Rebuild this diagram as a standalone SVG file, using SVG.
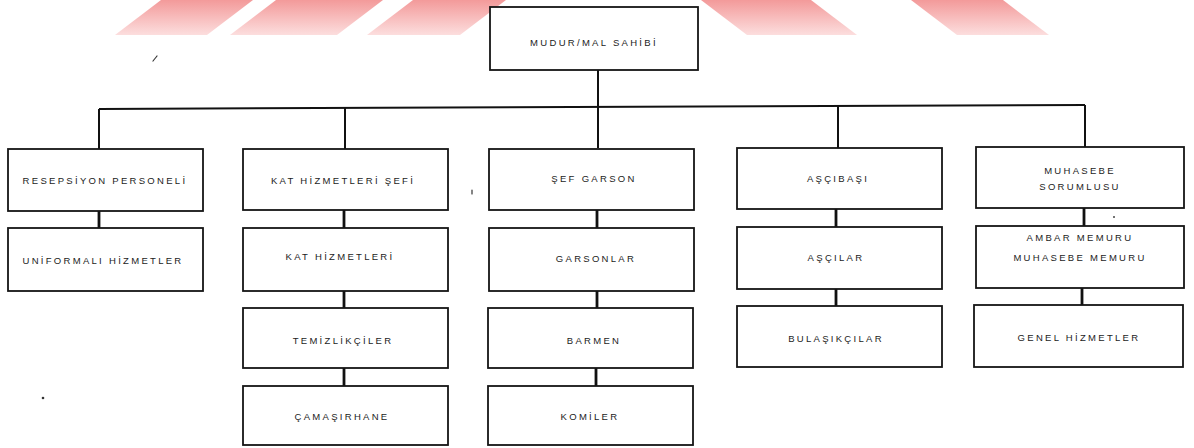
<svg xmlns="http://www.w3.org/2000/svg" width="1194" height="448" viewBox="0 0 1194 448">
  <defs>
    <linearGradient id="band" x1="0" y1="0" x2="0" y2="1">
      <stop offset="0" stop-color="#f39a9a"/>
      <stop offset="1" stop-color="#fcdede"/>
    </linearGradient>
    <style>
      .box { fill: #ffffff; stroke: #151515; stroke-width: 1.8; }
      .lbl { font-family: "Liberation Sans", "DejaVu Sans", sans-serif; font-size: 9.5px; letter-spacing: 2.3px; fill: #1c1c1c; text-anchor: middle; dominant-baseline: central; }
      .wire { fill: none; stroke: #111111; stroke-width: 2; }
      .link { fill: none; stroke: #111111; stroke-width: 2.8; }
      .speck { fill: none; stroke: #333333; stroke-width: 1.2; stroke-linecap: round; }
    </style>
  </defs>

  <rect width="1194" height="448" fill="#ffffff"/>

  <!-- decorative slanted bands along the top edge -->
  <g id="bands" fill="url(#band)">
    <polygon points="161,0 253,0 207,35 115,35"/>
    <polygon points="276,0 383,0 337,35 230,35"/>
    <polygon points="413,0 506,0 460,35 367,35"/>
    <polygon points="701,0 811,0 857,35 747,35"/>
    <polygon points="911,0 1003,0 1049,35 957,35"/>
  </g>

  <!-- connectors -->
  <g id="connectors">
    <line class="wire" x1="598" y1="70" x2="598" y2="148"/>
    <line class="wire" x1="99" y1="109" x2="1085" y2="105"/>
    <line class="wire" x1="99" y1="109" x2="99" y2="149"/>
    <line class="wire" x1="345" y1="108" x2="345" y2="149"/>
    <line class="wire" x1="838" y1="106" x2="838" y2="148"/>
    <line class="wire" x1="1085" y1="105" x2="1085" y2="147"/>

    <line class="link" x1="99" y1="211" x2="99" y2="228"/>
    <line class="link" x1="344" y1="210" x2="344" y2="228"/>
    <line class="link" x1="344" y1="291" x2="344" y2="308"/>
    <line class="link" x1="344" y1="368" x2="344" y2="386"/>
    <line class="link" x1="597" y1="210" x2="597" y2="228"/>
    <line class="link" x1="597" y1="291" x2="597" y2="308"/>
    <line class="link" x1="596" y1="368" x2="596" y2="386"/>
    <line class="link" x1="836" y1="209" x2="836" y2="227"/>
    <line class="link" x1="836" y1="289" x2="836" y2="306"/>
    <line class="link" x1="1084" y1="208" x2="1084" y2="226"/>
    <line class="link" x1="1082" y1="288" x2="1082" y2="305"/>
  </g>

  <!-- top -->
  <g id="mudur">
    <rect class="box" x="490" y="7" width="208" height="63"/>
    <text class="lbl" x="594" y="42">MUDUR/MAL SAHİBİ</text>
  </g>

  <!-- column 1 -->
  <g id="resepsiyon">
    <rect class="box" x="8" y="149" width="195" height="62"/>
    <text class="lbl" x="105" y="180">RESEPSİYON PERSONELİ</text>
  </g>
  <g id="uniformali">
    <rect class="box" x="8" y="228" width="195" height="63"/>
    <text class="lbl" x="103" y="260">UNİFORMALI HİZMETLER</text>
  </g>

  <!-- column 2 -->
  <g id="kat-sefi">
    <rect class="box" x="243" y="149" width="205" height="61"/>
    <text class="lbl" x="343" y="180">KAT HİZMETLERİ ŞEFİ</text>
  </g>
  <g id="kat-hizmetleri">
    <rect class="box" x="243" y="228" width="205" height="63"/>
    <text class="lbl" x="340" y="256">KAT HİZMETLERİ</text>
  </g>
  <g id="temizlikciler">
    <rect class="box" x="243" y="308" width="205" height="60"/>
    <text class="lbl" x="343" y="340">TEMİZLİKÇİLER</text>
  </g>
  <g id="camasirhane">
    <rect class="box" x="243" y="386" width="205" height="59"/>
    <text class="lbl" x="342" y="416">ÇAMAŞIRHANE</text>
  </g>

  <!-- column 3 -->
  <g id="sef-garson">
    <rect class="box" x="489" y="149" width="205" height="61"/>
    <text class="lbl" x="594" y="178">ŞEF GARSON</text>
  </g>
  <g id="garsonlar">
    <rect class="box" x="489" y="228" width="205" height="63"/>
    <text class="lbl" x="596" y="258">GARSONLAR</text>
  </g>
  <g id="barmen">
    <rect class="box" x="488" y="308" width="205" height="60"/>
    <text class="lbl" x="594" y="340">BARMEN</text>
  </g>
  <g id="komiler">
    <rect class="box" x="488" y="386" width="205" height="59"/>
    <text class="lbl" x="590" y="416">KOMİLER</text>
  </g>

  <!-- column 4 -->
  <g id="ascibasi">
    <rect class="box" x="737" y="148" width="205" height="61"/>
    <text class="lbl" x="838" y="178">AŞÇIBAŞI</text>
  </g>
  <g id="ascilar">
    <rect class="box" x="737" y="227" width="205" height="62"/>
    <text class="lbl" x="836" y="257">AŞÇILAR</text>
  </g>
  <g id="bulasikcilar">
    <rect class="box" x="737" y="306" width="205" height="61"/>
    <text class="lbl" x="836" y="338">BULAŞIKÇILAR</text>
  </g>

  <!-- column 5 -->
  <g id="muhasebe-sorumlusu">
    <rect class="box" x="976" y="147" width="208" height="61"/>
    <text class="lbl" x="1080" y="170">MUHASEBE</text>
    <text class="lbl" x="1080" y="186">SORUMLUSU</text>
  </g>
  <g id="ambar-muhasebe">
    <rect class="box" x="976" y="226" width="208" height="62"/>
    <text class="lbl" x="1080" y="237">AMBAR MEMURU</text>
    <text class="lbl" x="1080" y="257">MUHASEBE MEMURU</text>
  </g>
  <g id="genel-hizmetler">
    <rect class="box" x="974" y="305" width="209" height="62"/>
    <text class="lbl" x="1079" y="337">GENEL HİZMETLER</text>
  </g>

  <!-- stray marks -->
  <g id="specks">
    <line class="speck" x1="153" y1="61" x2="157" y2="56"/>
    <circle cx="43" cy="398" r="1.3" fill="#333"/>
    <line class="speck" x1="472" y1="190" x2="472" y2="194"/>
    <circle cx="1114" cy="217" r="1" fill="#444"/>
  </g>
</svg>
